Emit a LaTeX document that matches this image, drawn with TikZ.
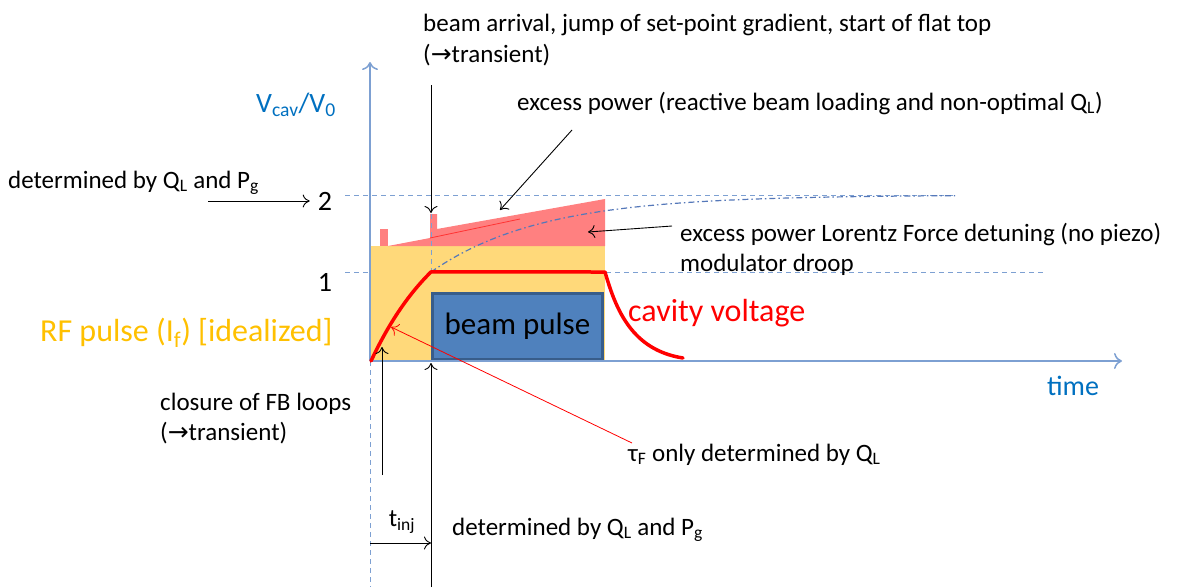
\documentclass[tikz,border=0pt]{standalone}
\usepackage{fontspec}
\setmainfont{Carlito}
\newfontfamily\symfont{DejaVu Sans}
\usetikzlibrary{arrows.meta}
\usetikzlibrary{calc}

\definecolor{axisblue}{RGB}{125,160,210}
\definecolor{labelblue}{RGB}{0,112,192}
\definecolor{rfyellow}{RGB}{255,217,122}
\definecolor{rforange}{RGB}{255,192,0}
\definecolor{excess}{RGB}{255,128,128}
\definecolor{beamfill}{RGB}{79,129,189}
\definecolor{beamedge}{RGB}{56,93,138}
\definecolor{chargeline}{RGB}{85,120,185}

\begin{document}
\begin{tikzpicture}[x=1pt,y=-1pt,
    note/.style={font=\fontsize{25}{30}\selectfont,inner sep=0pt},
    big/.style={font=\fontsize{32}{36}\selectfont,inner sep=0pt},
    level/.style={font=\fontsize{28}{32}\selectfont,inner sep=0pt},
    guide/.style={axisblue,line width=1pt,dash pattern=on 5pt off 4pt},
    pointer/.style={-{To[length=7pt,width=13pt]},line width=0.9pt}]
  \useasboundingbox (0,0) rectangle (1189,587);

  % levels 1 and 2
  \draw[guide] (345,195) -- (955,195);
  \draw[guide] (345,272) -- (1045,272);

  % RF pulse and excess power
  \fill[rfyellow] (371,246) rectangle (605,361);
  \fill[excess] (380,229) rectangle (388,246);
  \fill[excess] (388,246) -- (430,238) -- (430,214) -- (437,214) -- (437,229)
    -- (605,199) -- (605,246) -- cycle;
  \draw[red!60!excess,line width=0.8pt] (430,238) -- (520,219);
  \draw[guide] (431,214) -- (431,272);
  \draw[chargeline,line width=1.2pt,dash pattern=on 6pt off 3pt on 1.5pt off 3pt]
    plot[domain=431:955,samples=80] (\x,{195+77*exp(-(\x-431)/110)});

  % beam pulse
  \node[draw=beamedge,fill=beamfill,line width=2.5pt,minimum width=170pt,
    minimum height=66pt,inner sep=0pt,font=\fontsize{31}{36}\selectfont]
    (beam) at (517.5,326.5) {beam pulse};

  % axes
  \coordinate (origin) at (370,361);
  \coordinate (ytop) at (370,62);
  \coordinate (xend) at (1122,361);
  \coordinate (ybottom) at (370,587);
  \draw[axisblue,line width=1.5pt,-{To[length=8pt,width=16pt]}] (origin) -- (ytop);
  \draw[axisblue,line width=1.5pt,-{To[length=8pt,width=16pt]}] (origin) -- (xend);
  \draw[guide] (origin) -- (ybottom);

  % cavity voltage
  \draw[red,line width=3.5pt,line cap=round,line join=round]
    plot[domain=371:431,samples=30] (\x,{195+166*exp(-(\x-371)/78)})
    -- (605,272) .. controls (616,310) and (632,350) .. (683,358);

  % labels
  \node[level,text=labelblue] (vlabel) at (296,105) {V\textsubscript{cav}/V\textsubscript{0}};
  \node[level,text=labelblue] (timelabel) at (1073,386) {time};
  \node[level] (two) at (325,201) {2};
  \node[level] (one) at (325,282) {1};
  \node[big,anchor=base west,text=rforange] (rfnote) at (40,341) {RF pulse (I\textsubscript{f}) [idealized]};
  \node[big,anchor=base west,text=red] (cavnote) at (628,321) {cavity voltage};

  \node[note,anchor=base west] (leftnote) at (8,188) {determined by Q\textsubscript{L} and P\textsubscript{g}};
  \node[note,anchor=base west] (arrival) at (423,31) {beam arrival, jump of set-point gradient, start of flat top};
  \node[note,anchor=base west] (arrival2) at (423,62) {({\symfont →}transient)};
  \node[note,anchor=base west] (excessnote) at (517,110) {excess power (reactive beam loading and non-optimal Q\textsubscript{L})};
  \node[note,anchor=base west] (lfdnote) at (680,241) {excess power Lorentz Force detuning (no piezo)};
  \node[note,anchor=base west] (droopnote) at (680,271) {modulator droop};
  \node[note,anchor=base west] (fbnote) at (160,410) {closure of FB loops};
  \node[note,anchor=base west] (fbnote2) at (160,440) {({\symfont →}transient)};
  \node[note,anchor=base west] (taunote) at (628,461) {τ\textsubscript{F} only determined by Q\textsubscript{L}};
  \node[note,anchor=base west] (injnote) at (452,535) {determined by Q\textsubscript{L} and P\textsubscript{g}};
  \node[note] (tinj) at (402,522) {t\textsubscript{inj}};

  % pointers
  \coordinate (lefttail) at (208,201);
  \coordinate (arrivaltail) at (431,85);
  \coordinate (arrivalhead) at (431,213);
  \coordinate (excesstail) at (572,130);
  \coordinate (excesshead) at (500,210);
  \coordinate (lfdtail) at (672,226);
  \coordinate (lfdhead) at (588,232);
  \coordinate (fbtail) at (382,475);
  \coordinate (fbhead) at (382,347);
  \coordinate (tautail) at (632,443);
  \coordinate (tauhead) at (391,327);
  \coordinate (injstart) at (370,543);
  \coordinate (injend) at (431,543);
  \coordinate (beamtail) at (431,587);
  \coordinate (beamhead) at (431,363);
  \draw[pointer] (lefttail) -- ($(two.west)+(-8,0)$);
  \draw[pointer] (arrivaltail) -- (arrivalhead);
  \draw[pointer] (excesstail) -- (excesshead);
  \draw[pointer] (lfdtail) -- (lfdhead);
  \draw[pointer] (fbtail) -- (fbhead);
  \draw[pointer,red,line width=0.8pt] (tautail) -- (tauhead);
  \draw[pointer] (injstart) -- (injend);
  \draw[pointer] (beamtail) -- (beamhead);
\end{tikzpicture}
\end{document}
